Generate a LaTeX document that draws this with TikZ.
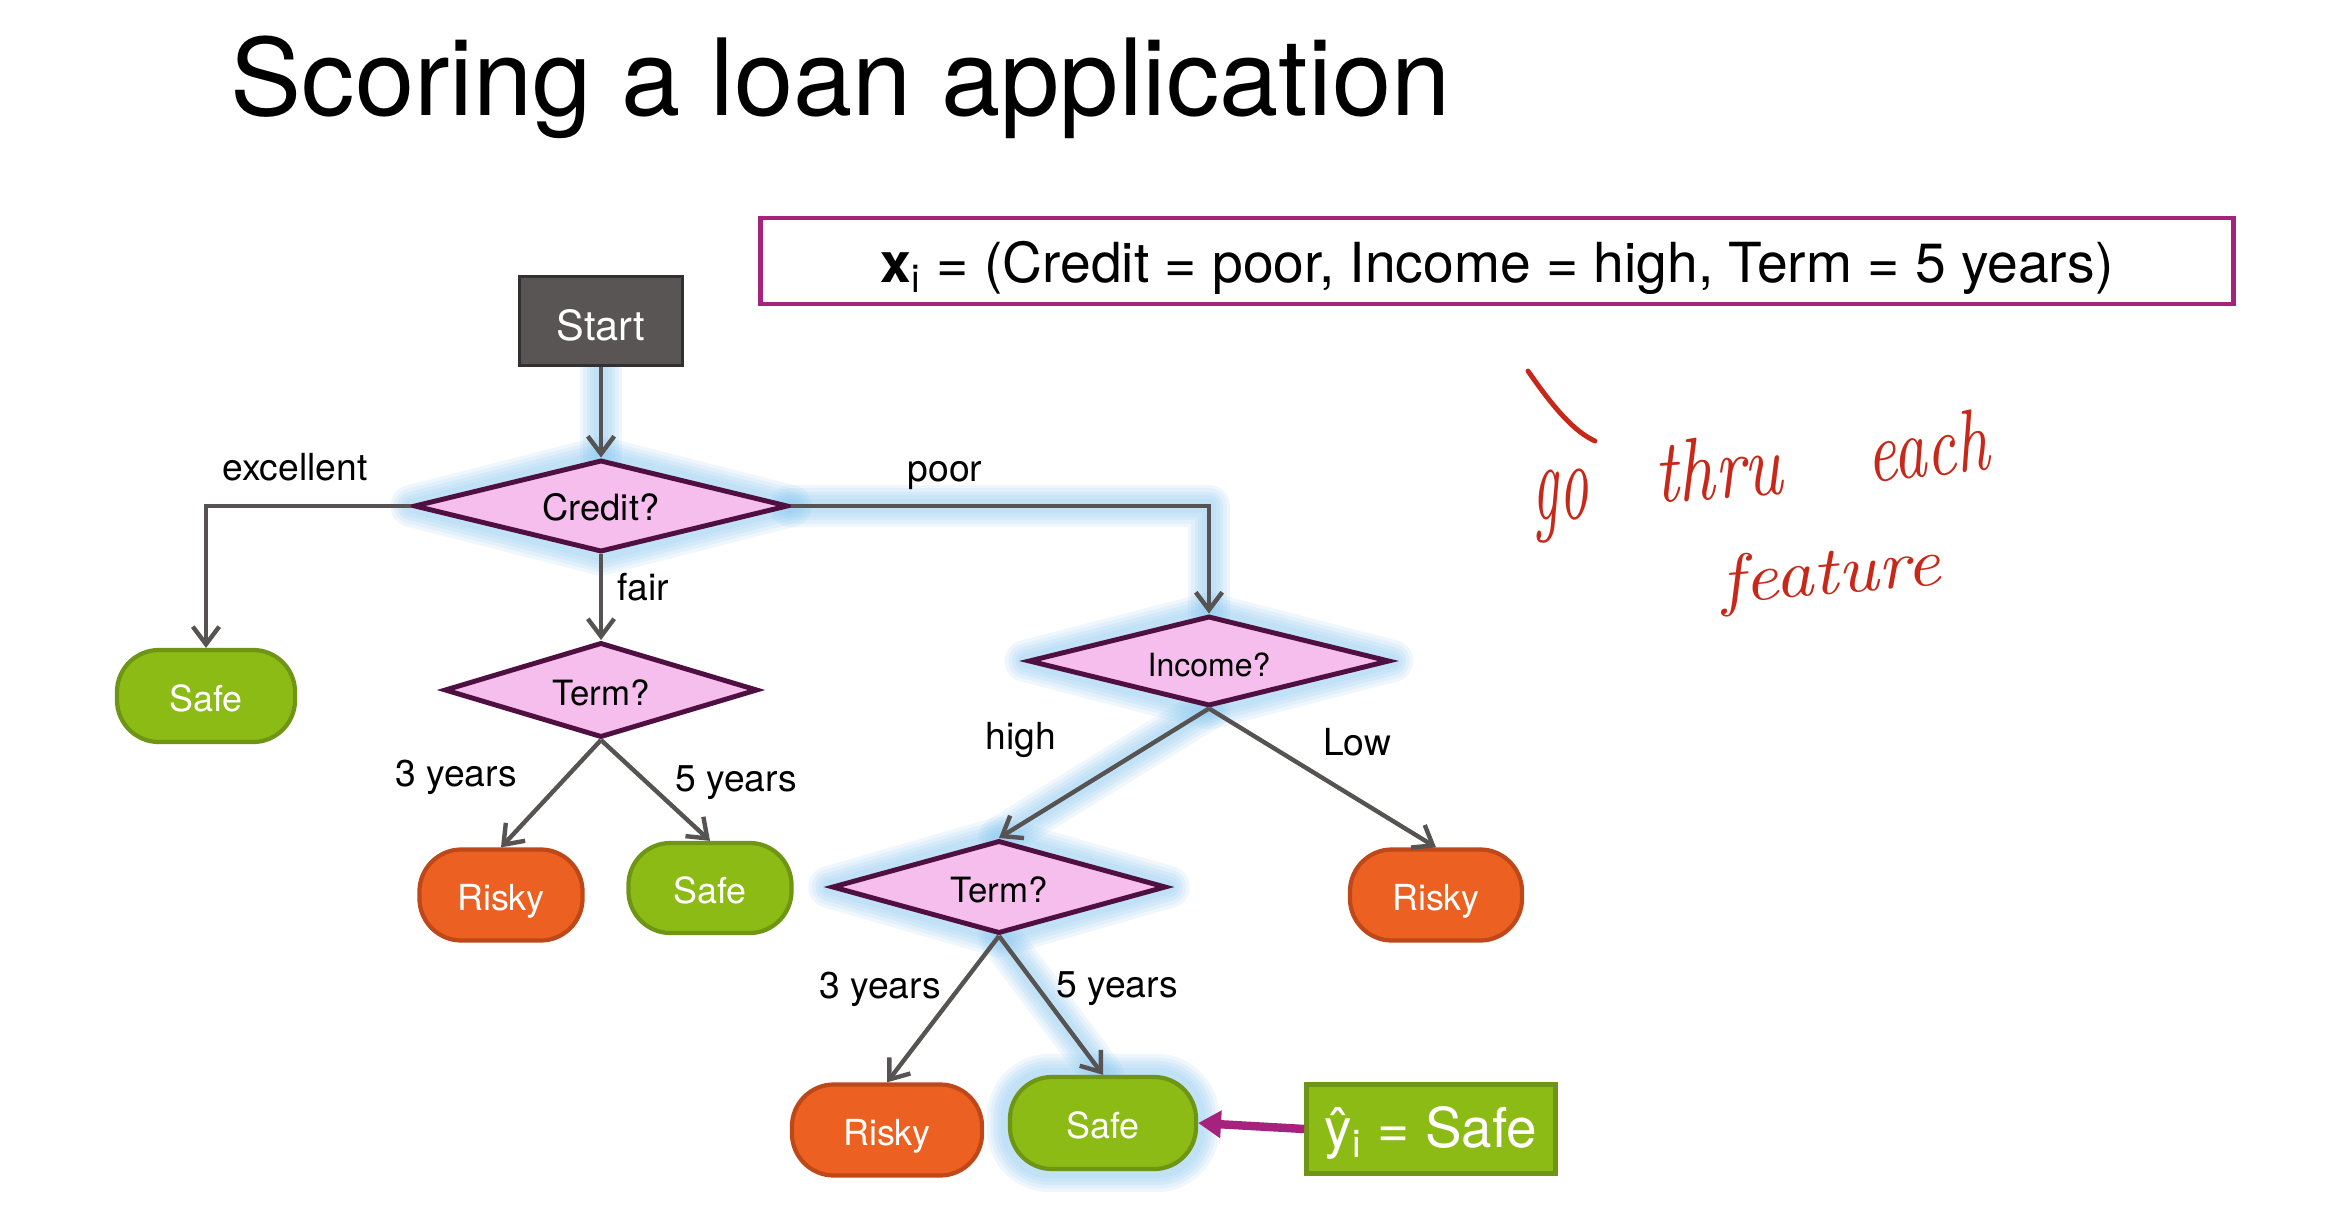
\documentclass[tikz,border=0pt]{standalone}
\usepackage{fontspec}
\usepackage{graphicx}
\newfontfamily\hv{TeX Gyre Heros}
\usetikzlibrary{shapes.geometric,arrows.meta,backgrounds}

\definecolor{edge}{RGB}{87,83,83}
\definecolor{pinkfill}{RGB}{245,190,236}
\definecolor{pinkdraw}{RGB}{80,15,65}
\definecolor{safefill}{RGB}{141,187,22}
\definecolor{safedraw}{RGB}{110,150,20}
\definecolor{riskfill}{RGB}{236,97,33}
\definecolor{riskdraw}{RGB}{190,72,25}
\definecolor{startfill}{RGB}{90,85,85}
\definecolor{startdraw}{RGB}{50,48,48}
\definecolor{plum}{RGB}{165,35,125}
\definecolor{ink}{RGB}{200,40,25}
\definecolor{halo}{RGB}{135,200,242}

% soft blue halo behind the followed branch, built from stacked translucent strokes
\newcommand\halo[2][]{%
  \foreach \w in {12,10,8,6,4}{%
    \draw[halo, opacity=0.13, line width=\w pt, line join=round, line cap=round, #1] #2;
  }%
}

\tikzset{
  decision/.style={diamond, shape aspect=4, draw=pinkdraw, fill=pinkfill, line width=1.4pt,
    inner sep=0pt, text=black, font=\hv\fontsize{10.3}{12}\selectfont,
    text height=9pt, text depth=0pt},
  leaf/.style={rectangle, rounded corners=0.42cm, line width=1.2pt, inner sep=0pt,
    text=white, font=\hv\fontsize{10.2}{12}\selectfont, text height=8.6pt, text depth=0pt},
  safeleaf/.style={leaf, fill=safefill, draw=safedraw},
  riskleaf/.style={leaf, fill=riskfill, draw=riskdraw},
  branch/.style={draw=edge, line width=1.25pt, -{Straight Barb[length=5pt,width=7.5pt]}},
  edgelabel/.style={font=\hv\fontsize{10.6}{12}\selectfont, text=black, inner sep=0pt},
  scrawl/.style={text=ink, inner sep=0pt},
}

\begin{document}
\begin{tikzpicture}[x=0.01cm, y=-0.01cm]
  \begin{scope}[on background layer]
    \fill[white] (0,0) rectangle (2326,1218);
  \end{scope}
  \useasboundingbox (0,0) rectangle (2326,1218);

  % heading
  \node[anchor=base west, inner sep=0pt, font=\hv\fontsize{30.3}{36}\selectfont] (title)
    at (230,116) {Scoring a loan application};

  % the input being scored
  \node[draw=plum, line width=1.4pt, minimum width=14.72cm, minimum height=0.86cm,
        inner sep=0pt] (xi) at (1497,261) {};
  \node[inner sep=0pt, font=\hv\fontsize{15.7}{18}\selectfont] (xitext) at (1497,268)
    {{\bfseries x}\textsubscript{i} = (Credit = poor, Income = high, Term = 5 years)};

  % tree nodes
  \node[draw=startdraw, fill=startfill, line width=1pt, minimum width=1.63cm,
        minimum height=0.89cm, inner sep=0pt, text=white, text height=11.3pt, text depth=0pt,
        font=\hv\fontsize{11.8}{14}\selectfont] (start) at (601,321) {Start};
  \node[decision, minimum width=3.74cm, minimum height=0.92cm, text height=8pt] (credit) at (601,506) {Credit?};
  \node[safeleaf, minimum width=1.78cm, minimum height=0.92cm] (safeA) at (206,696) {Safe};
  \node[decision, minimum width=3.13cm, minimum height=0.95cm, font=\hv\fontsize{9.9}{12}\selectfont] (termA) at (601,690) {Term?};
  \node[riskleaf, minimum width=1.63cm, minimum height=0.91cm] (riskA) at (501,895) {Risky};
  \node[safeleaf, minimum width=1.63cm, minimum height=0.90cm] (safeB) at (710,888) {Safe};
  \node[decision, minimum width=3.61cm, minimum height=0.90cm, font=\hv\fontsize{9.1}{11}\selectfont] (income) at (1209,661) {Income?};
  \node[decision, minimum width=3.34cm, minimum height=0.93cm, font=\hv\fontsize{9.9}{12}\selectfont] (termB) at (999,887) {Term?};
  \node[riskleaf, minimum width=1.72cm, minimum height=0.91cm] (riskB) at (1436,895) {Risky};
  \node[riskleaf, minimum width=1.90cm, minimum height=0.91cm] (riskC) at (887,1130) {Risky};
  \node[safeleaf, minimum width=1.86cm, minimum height=0.92cm] (safeC) at (1103,1123) {Safe};

  % prediction
  \node[draw=safedraw, fill=safefill, line width=1.3pt, minimum width=2.49cm,
        minimum height=0.89cm, inner sep=0pt, text=white, text height=11.5pt, text depth=1pt,
        font=\hv\fontsize{15.6}{18}\selectfont] (yhat) at (1431,1129)
    {ŷ\textsubscript{i} = Safe};

  % halo along the path taken
  \begin{scope}[on background layer]
    \halo{(start.south) -- (credit.north)}
    \halo{(credit.north) -- (credit.east) -- (credit.south) -- (credit.west) -- cycle}
    \halo{(credit.east) -| (income.north)}
    \halo{(income.north) -- (income.east) -- (income.south) -- (income.west) -- cycle}
    \halo{(income.south) -- (termB.north)}
    \halo{(termB.north) -- (termB.east) -- (termB.south) -- (termB.west) -- cycle}
    \halo{(termB.south) -- (safeC.north)}
    \halo[rounded corners=0.42cm]{(safeC.south west) rectangle (safeC.north east)}
  \end{scope}

  % branches
  \draw[branch] (start.south) -- (credit.north);
  \draw[branch] (credit.west) -| (safeA.north);
  \draw[branch] (credit.south) -- (termA.north);
  \draw[branch] (credit.east) -| (income.north);
  \draw[branch] (termA.south) -- (riskA.north);
  \draw[branch] (termA.south) -- (safeB.north);
  \draw[branch] (income.south) -- (termB.north);
  \draw[branch] (income.south) -- (riskB.north);
  \draw[branch] (termB.south) -- (riskC.north);
  \draw[branch] (termB.south) -- (safeC.north);

  \draw[draw=plum, line width=2.4pt, -{Triangle[length=6.5pt,width=7.5pt]}] (yhat.west) -- (safeC.east);

  % branch labels
  \node[edgelabel] (lexc) at (295,467) {excellent};
  \node[edgelabel] (lpoor) at (945,476) {poor};
  \node[edgelabel] (lfair) at (643,587) {fair};
  \node[edgelabel] (l3a) at (456,777) {3 years};
  \node[edgelabel] (l5a) at (736,783) {5 years};
  \node[edgelabel] (lhigh) at (1021,740) {high};
  \node[edgelabel] (llow) at (1357,742) {Low};
  \node[edgelabel] (l3b) at (880,989) {3 years};
  \node[edgelabel] (l5b) at (1117,989) {5 years};

  % handwritten note
  \coordinate (tickA) at (1528,371);
  \coordinate (tickB) at (1595,441);
  \draw[ink, line width=1.4pt, line cap=round] (tickA) .. controls (1555,410) and (1575,432) .. (tickB);
  \node[scrawl, rotate=2] (wgo) at (1561,506) {\resizebox*{0.55cm}{0.73cm}{\itshape go}};
  \node[scrawl, rotate=4] (wthru) at (1718,468) {\resizebox*{1.28cm}{0.63cm}{\itshape thru}};
  \node[scrawl, rotate=6] (weach) at (1927,446) {\resizebox*{1.22cm}{0.62cm}{\itshape each}};
  \node[scrawl, rotate=5] (wfeat) at (1831,577) {\resizebox*{2.20cm}{0.62cm}{\itshape feature}};
\end{tikzpicture}
\end{document}
